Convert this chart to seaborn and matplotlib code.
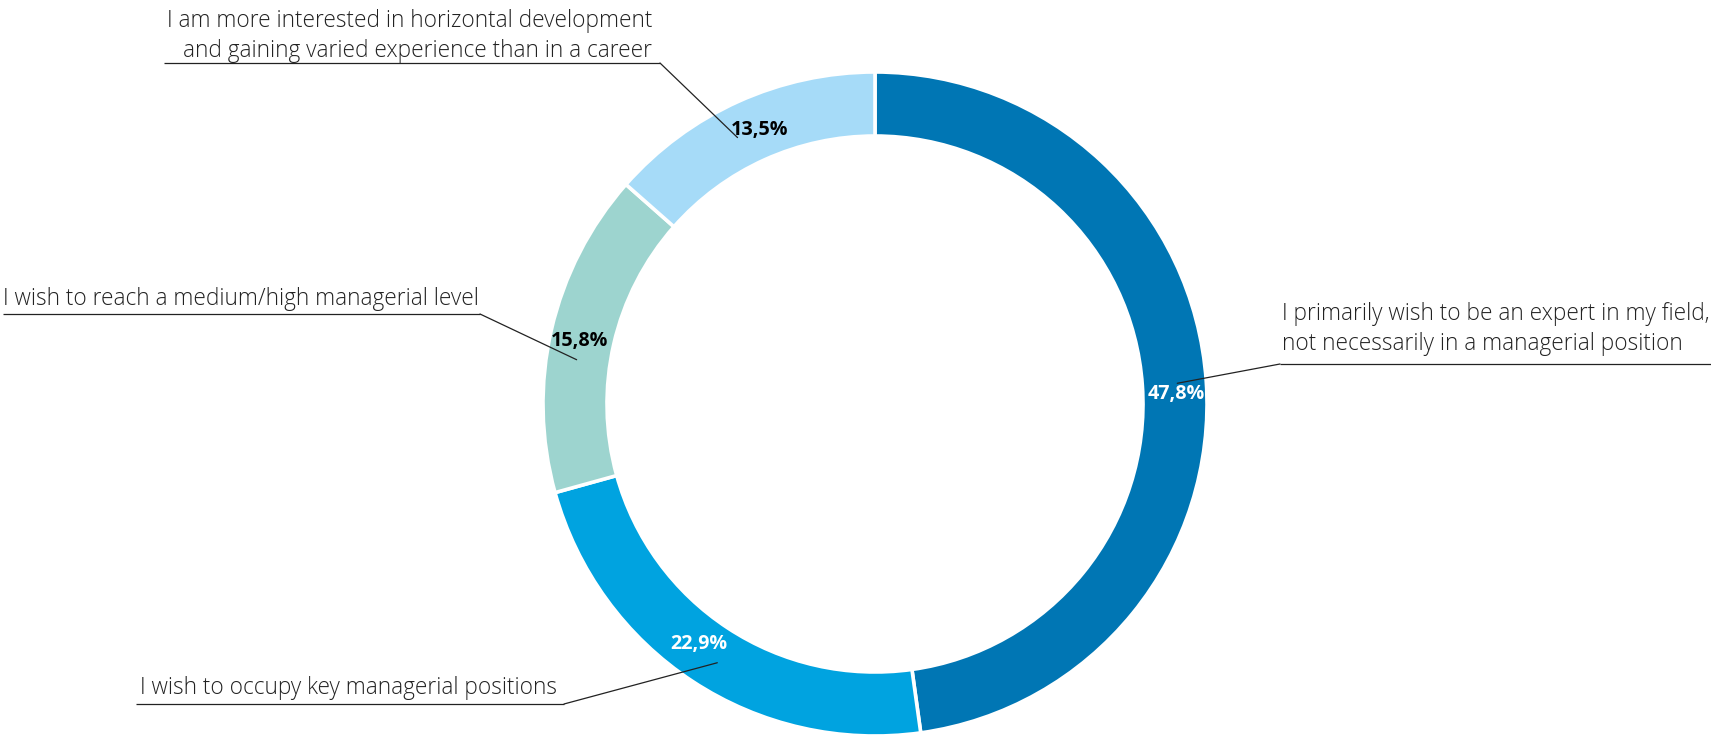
import matplotlib
matplotlib.use("Agg")
import matplotlib.pyplot as plt
import numpy as np
import seaborn as sns

# Survey answers, in clockwise order starting at 12 o'clock
categories = [
    "I primarily wish to be an expert in my field,\nnot necessarily in a managerial position",
    "I wish to occupy key managerial positions",
    "I wish to reach a medium/high managerial level",
    "I am more interested in horizontal development\nand gaining varied experience than in a career",
]
shares = [47.8, 22.9, 15.8, 13.5]
slice_colors = ["#0076b4", "#00a3e0", "#9dd4cf", "#a6dbf8"]
value_colors = ["white", "white", "black", "black"]

sns.set_theme(style="white")
plt.rcParams["font.family"] = ["Open Sans", "DejaVu Sans"]

W, H = 1711, 735
fig = plt.figure(figsize=(W / 100, H / 100), dpi=100)
ax = fig.add_axes([0, 0, 1, 1])


def top(y):
    """Convert a top-down pixel row into the axes' upward y."""
    return H - y


cx, cy = 875, top(404)
r_out, ring = 332, 64

wedges, _ = ax.pie(
    shares,
    colors=slice_colors,
    startangle=90,
    counterclock=False,
    radius=r_out,
    center=(cx, cy),
    wedgeprops=dict(width=ring, edgecolor="white", linewidth=2.6),
)
ax.set_xlim(0, W)
ax.set_ylim(0, H)
ax.set_aspect("equal")
ax.axis("off")

# Callout layout (pixels, y measured downwards): text anchor, alignment,
# underline span, nudge of the value label and of the leader's end from the ring middle
callouts = [
    dict(xy=(1282, 350), ha="left", line=(1280, W, 364), nudge=(2, 11), lead=(3, 0)),
    dict(xy=(140, 694), ha="left", line=(136, 564, 704), nudge=(-11, -11), lead=(7, 8)),
    dict(xy=(3, 305), ha="left", line=(3, 480, 314), nudge=(-3, 4), lead=(-6, 23)),
    dict(xy=(652, 57), ha="right", line=(164, 660, 63), nudge=(8, -1), lead=(-14, 7)),
]

r_mid = r_out - ring / 2
for w, label, val, vcol, c in zip(wedges, categories, shares, value_colors, callouts):
    mid = np.deg2rad((w.theta1 + w.theta2) / 2)
    ax_x = cx + r_mid * np.cos(mid)
    ax_y = cy + r_mid * np.sin(mid)
    ax.text(ax_x + c["nudge"][0], ax_y - c["nudge"][1],
            f"{val:.1f}".replace(".", ",") + "%", ha="center", va="center",
            fontsize=14.2, fontweight="bold", color=vcol)

    tx, ty = c["xy"]
    ax.text(tx, top(ty), label, ha=c["ha"], va="baseline", multialignment=c["ha"],
            fontsize=16.3, fontweight="light", color="#222222", linespacing=1.32)

    x0, x1, uy = c["line"]
    ax.plot([x0, x1], [top(uy), top(uy)], color="#222222", lw=0.9, solid_capstyle="butt")
    ex, ey = ax_x + c["lead"][0], ax_y - c["lead"][1]
    sx = x0 if x0 > cx else x1
    ax.plot([sx, ex], [top(uy), ey], color="#222222", lw=0.9)

fig.savefig("out.png", dpi=100)
